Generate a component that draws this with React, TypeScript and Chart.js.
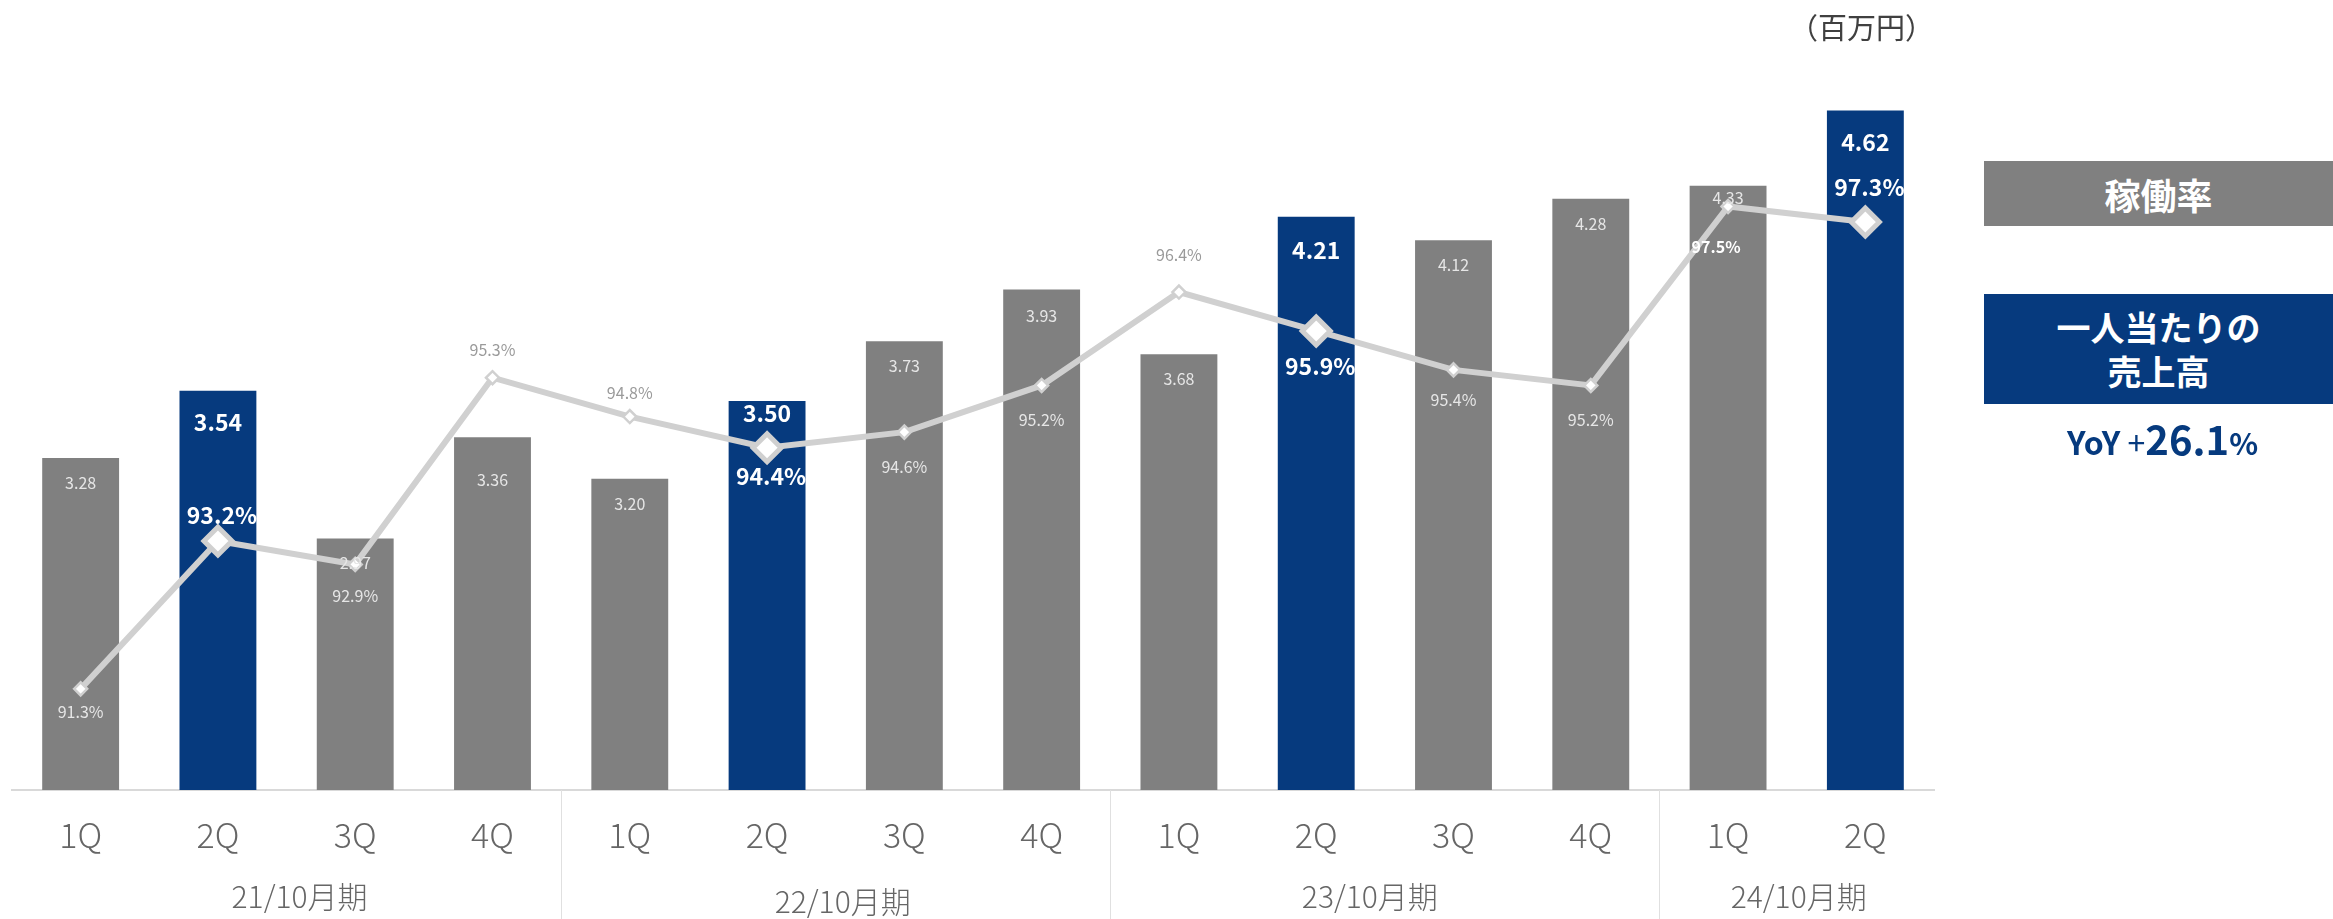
import React, { useEffect, useRef } from 'react';
import { Chart, registerables } from 'chart.js';

Chart.register(...registerables);

// ---------- data ----------
const quarters = ['1Q', '2Q', '3Q', '4Q', '1Q', '2Q', '3Q', '4Q', '1Q', '2Q', '3Q', '4Q', '1Q', '2Q'];
const fiscalYears = ['21/10月期', '22/10月期', '23/10月期', '24/10月期'];
const quartersPerYear = [4, 4, 4, 2];
const salesPerHead = [3.28, 3.54, 2.97, 3.36, 3.2, 3.5, 3.73, 3.93, 3.68, 4.21, 4.12, 4.28, 4.33, 4.62];
const utilizationRate = [91.3, 93.2, 92.9, 95.3, 94.8, 94.4, 94.6, 95.2, 96.4, 95.9, 95.4, 95.2, 97.5, 97.3];
const salesAxisRange = [2, 5];
const rateAxisRange = [90, 100];
const highlightQuarter = '2Q';

// ---------- layout / style ----------
const FONT = '"Noto Sans CJK JP", "Noto Sans", sans-serif';
const GRAY = '#808080';
const BLUE = '#063A7E';
const LINE = '#D0D0D0';
const barLabelDy = [25, 32, 24, 43, 25, 12, 25, 26, 25, 33, 25, 25, 12, 32];
const lineLabelDy = [23, -26, 32, -28, -24, 29, 35, 34, -37, 35, 30, 34, 40, -35];
const groupLabelDx = [13, 7, -15, 2];
const groupLabelDy = [0, 5, 0, 0];

const highlight = quarters.map((q) => q === highlightQuarter);

const labelPlugin = {
  id: 'customLabels',
  afterDatasetsDraw(chart: any) {
    const ctx = chart.ctx as CanvasRenderingContext2D;
    const lineMeta = chart.getDatasetMeta(0);
    const barMeta = chart.getDatasetMeta(1);
    ctx.save();
    ctx.textAlign = 'center';
    ctx.textBaseline = 'middle';

    barMeta.data.forEach((el: any, i: number) => {
      const hi = highlight[i];
      ctx.font = hi ? `bold 23px ${FONT}` : `16px ${FONT}`;
      ctx.fillStyle = hi ? '#FFFFFF' : '#E6E6E6';
      ctx.fillText(salesPerHead[i].toFixed(2), el.x, el.y + barLabelDy[i]);
    });

    lineMeta.data.forEach((el: any, i: number) => {
      const hi = highlight[i];
      const ly = el.y + lineLabelDy[i];
      const barTop = barMeta.data[i].y;
      const inside = ly > barTop + 6;
      const strong = !hi && i === 12;
      let dx = 0;
      if (hi) dx = 4;
      if (strong) dx = -12;
      ctx.font = hi ? `bold 23px ${FONT}` : strong ? `bold 16px ${FONT}` : `16px ${FONT}`;
      ctx.fillStyle = hi || strong ? '#FFFFFF' : inside ? '#E6E6E6' : '#9A9A9A';
      ctx.fillText(utilizationRate[i].toFixed(1) + '%', el.x + dx, ly);
    });

    const xs = chart.scales.x;
    let start = 0;
    ctx.font = `300 30px ${FONT}`;
    ctx.fillStyle = '#666666';
    fiscalYears.forEach((fy, g) => {
      const n = quartersPerYear[g];
      const cx = (xs.getPixelForValue(start) + xs.getPixelForValue(start + n - 1)) / 2;
      ctx.fillText(fy, cx + groupLabelDx[g], xs.top + 107 + groupLabelDy[g]);
      if (g > 0) {
        const bx = Math.round((xs.getPixelForValue(start - 1) + xs.getPixelForValue(start)) / 2) + 0.5;
        ctx.strokeStyle = '#E0E0E0';
        ctx.lineWidth = 1;
        ctx.beginPath();
        ctx.moveTo(bx, xs.top);
        ctx.lineTo(bx, chart.height);
        ctx.stroke();
      }
      start += n;
    });
    ctx.restore();
  },
};

export default function App() {
  const ref = useRef<HTMLCanvasElement | null>(null);

  useEffect(() => {
    if (!ref.current) return;
    const chart = new Chart(ref.current, {
      type: 'bar',
      data: {
        labels: quarters,
        datasets: [
          {
            type: 'line',
            label: '稼働率',
            data: utilizationRate,
            yAxisID: 'y1',
            borderColor: LINE,
            borderWidth: 6,
            tension: 0,
            pointStyle: 'rectRot',
            pointRadius: highlight.map((h) => (h ? 14 : 6.5)),
            pointBorderWidth: highlight.map((h) => (h ? 5 : 2.5)),
            pointBackgroundColor: '#FFFFFF',
            pointBorderColor: LINE,
            clip: false,
            order: 0,
          } as any,
          {
            type: 'bar',
            label: '一人当たりの売上高',
            data: salesPerHead,
            yAxisID: 'y',
            backgroundColor: highlight.map((h) => (h ? BLUE : GRAY)),
            categoryPercentage: 1,
            barPercentage: 0.56,
            order: 1,
          } as any,
        ],
      },
      options: {
        responsive: false,
        maintainAspectRatio: false,
        animation: false,
        devicePixelRatio: 1,
        layout: { autoPadding: false, padding: { left: 12, right: 399, top: 12, bottom: 0 } },
        plugins: { legend: { display: false }, tooltip: { enabled: false } },
        scales: {
          x: {
            type: 'category',
            offset: true,
            grid: { display: false },
            border: { display: true, color: '#D9D9D9', width: 2 },
            ticks: {
              color: '#666666',
              font: { family: FONT, size: 34, weight: '300' },
              padding: 17,
              maxRotation: 0,
              autoSkip: false,
            },
            afterFit: (s: any) => {
              s.height = 129;
            },
          },
          y: { display: false, min: salesAxisRange[0], max: salesAxisRange[1] },
          y1: { display: false, position: 'right', min: rateAxisRange[0], max: rateAxisRange[1] },
        },
      } as any,
      plugins: [labelPlugin],
    });
    return () => chart.destroy();
  }, []);

  const boxText: React.CSSProperties = {
    position: 'absolute',
    left: 1984,
    width: 349,
    color: '#FFFFFF',
    fontFamily: FONT,
    fontWeight: 700,
    display: 'flex',
    alignItems: 'center',
    justifyContent: 'center',
    textAlign: 'center',
  };

  return (
    <div style={{ position: 'fixed', left: 0, top: 0, width: 2333, height: 919, background: '#FFFFFF', overflow: 'hidden' }}>
      <canvas ref={ref} width={2333} height={919} style={{ display: 'block', width: 2333, height: 919 }} />
      <div
        style={{
          position: 'absolute',
          right: 2333 - 1934,
          top: 7,
          fontFamily: FONT,
          fontSize: 29,
          color: '#404040',
          lineHeight: '38px',
        }}
      >
        （百万円）
      </div>
      <div style={{ ...boxText, top: 161, height: 65, background: GRAY, fontSize: 36 }}>稼働率</div>
      <div style={{ ...boxText, top: 294, height: 110, background: BLUE, fontSize: 34, lineHeight: '44px', flexDirection: 'column' }}>
        <div>一人当たりの</div>
        <div>売上高</div>
      </div>
      <div
        style={{
          position: 'absolute',
          left: 1988,
          width: 349,
          top: 410,
          textAlign: 'center',
          fontFamily: FONT,
          fontWeight: 700,
          color: BLUE,
          lineHeight: '56px',
          whiteSpace: 'nowrap',
        }}
      >
        <span style={{ fontSize: 32 }}>YoY </span>
        <span style={{ fontSize: 32, fontWeight: 400 }}>+</span>
        <span style={{ fontSize: 40 }}>26.1</span>
        <span style={{ fontSize: 30 }}>%</span>
      </div>
    </div>
  );
}
